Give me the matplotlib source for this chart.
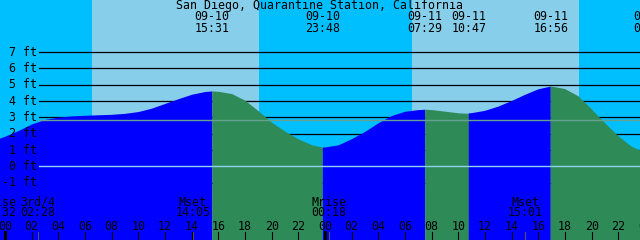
import matplotlib
matplotlib.use('Agg')
import numpy as np
import matplotlib.pyplot as plt

# --- data (hours counted from 09-10 00:00) ---
tide_t = [-1, 0, 1, 2, 3, 4, 5, 6, 7, 8, 9, 10, 11, 12, 13, 14, 15, 15.517, 16, 17, 18, 19,
          20, 21, 22, 23, 23.8, 24, 25, 26, 27, 28, 29, 30, 31, 31.483, 32, 33, 34, 34.783,
          35, 36, 37, 38, 39, 40, 40.933, 41, 42, 43, 44, 45, 46, 47, 48]
tide_h = [1.55, 1.85, 2.2, 2.6, 2.88, 3.02, 3.09, 3.13, 3.16, 3.19, 3.25, 3.36, 3.57, 3.86,
          4.15, 4.42, 4.59, 4.62, 4.60, 4.46, 4.05, 3.40, 2.70, 2.15, 1.68, 1.32, 1.18, 1.19,
          1.32, 1.70, 2.15, 2.68, 3.12, 3.38, 3.48, 3.50, 3.48, 3.38, 3.28, 3.25, 3.26, 3.40,
          3.66, 4.0, 4.38, 4.72, 4.89, 4.89, 4.74, 4.30, 3.50, 2.65, 1.85, 1.20, 0.85]

# high/low tide events
event_t = [15.517, 23.8, 31.483, 34.783, 40.933, 48.417]
event_date = ['09-10', '09-10', '09-11', '09-11', '09-11', '09-12']
event_time = ['15:31', '23:48', '07:29', '10:47', '16:56', '00:25']

# daylight
sunrise = [6.517, 30.533]
sunset = [19.05, 43.05]

# moon
moon_t = [-0.467, 2.467, 14.083, 24.3, 39.017]
moon_name = ['Mrise', '3rd/4', 'Mset', 'Mrise', 'Mset']
moon_time = ['23:32', '02:28', '14:05', '00:18', '15:01']

ft_ticks = [-1, 0, 1, 2, 3, 4, 5, 6, 7]
mean_level = 2.82
hour_ticks = list(range(0, 49, 2))

title = 'San Diego, Quarantine Station, California'

# --- colours ---
night = '#00bfff'
day = '#87ceeb'
rising = '#0000ff'
falling = '#2e8b57'

W, H = 640, 240
fig = plt.figure(figsize=(6.4, 2.4), dpi=100)
ax = fig.add_axes([0, 0, 1, 1])
ax.set_xlim(-0.375, 47.625)
ax.set_ylim(-4.52, 10.20)
ax.axis('off')
fig.patch.set_facecolor(night)
ax.axvspan(-5, 60, color=night, zorder=0, lw=0)
for a, b in zip(sunrise, sunset):
    ax.axvspan(a, b, color=day, zorder=0.5, lw=0)

# grid lines behind the water
x0 = 39 / W
for f in ft_ticks:
    ax.axhline(f, xmin=x0, xmax=1, color='black', lw=0.9, zorder=1)

# water, coloured by rising/falling
t = np.array(tide_t)
h = np.array(tide_h)
bounds = [t[0]] + event_t[:5] + [t[-1]]
for i in range(len(bounds) - 1):
    m = (t >= bounds[i]) & (t <= bounds[i + 1])
    col = rising if i % 2 == 0 else falling
    ax.fill_between(t[m], -10, h[m], color=col, lw=0, zorder=2)

# datum and mean lines over the water
ax.axhline(0, xmin=x0, xmax=1, color='#8fd3ec', lw=1.0, zorder=3)
ax.axhline(mean_level, xmin=x0, xmax=1, color='#67a08e', lw=1.0, zorder=3)

fs = 8.4
fam = 'DejaVu Sans Mono'
ytr = ax.get_yaxis_transform()
xtr = ax.get_xaxis_transform()

for f in ft_ticks:
    ax.text(37 / W, f, f'{f} ft', transform=ytr, ha='right', va='center',
            fontsize=fs, family=fam, zorder=5)

ax.text(0.5, 1 - 6 / H, title, transform=ax.transAxes, ha='center', va='center',
        fontsize=fs, family=fam, zorder=5)
for et, d, tm in zip(event_t, event_date, event_time):
    ax.text(et, 1 - 17 / H, d, transform=xtr, ha='center', va='center',
            fontsize=fs, family=fam, zorder=5, clip_on=False)
    ax.text(et, 1 - 29 / H, tm, transform=xtr, ha='center', va='center',
            fontsize=fs, family=fam, zorder=5, clip_on=False)

for mt, n, tm in zip(moon_t, moon_name, moon_time):
    ax.text(mt, 1 - 202 / H, n, transform=xtr, ha='center', va='center',
            fontsize=fs, family=fam, zorder=5, clip_on=False)
    ax.text(mt, 1 - 213 / H, tm, transform=xtr, ha='center', va='center',
            fontsize=fs, family=fam, zorder=5, clip_on=False)
    ax.plot([mt, mt], [0, 8 / H], transform=xtr, color='#555555', lw=0.8, zorder=4)

for ht in hour_ticks:
    ax.text(ht, 1 - 226 / H, f'{ht % 24:02d}', transform=xtr, ha='center', va='center',
            fontsize=fs, family=fam, zorder=5, clip_on=False)
    lw = 2.2 if ht % 24 == 0 else 0.8
    ax.plot([ht, ht], [0, 8 / H], transform=xtr, color='black', lw=lw, zorder=4)

fig.savefig('out.png', dpi=100, facecolor=night)
